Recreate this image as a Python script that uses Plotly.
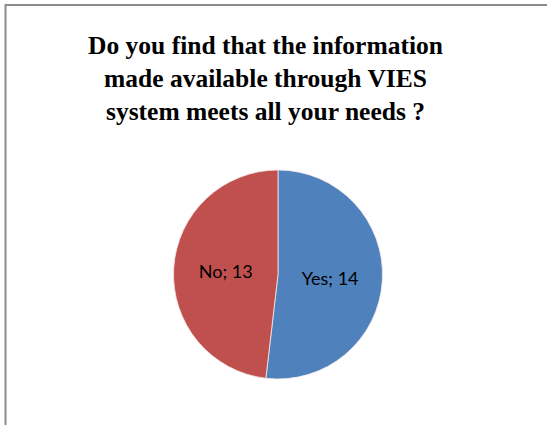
import plotly.graph_objects as go

labels = ["Yes", "No"]
values = [14, 13]
colors = ["#4F81BD", "#C0504D"]
title_text = "Do you find that the information<br>made available through VIES<br>system meets all your needs ?"

W, H = 547, 425
cx, cy, r = 278, 274.5, 104.5

fig = go.Figure(go.Pie(
    labels=labels,
    values=values,
    sort=False,
    direction="clockwise",
    rotation=0,
    marker=dict(colors=colors, line=dict(color="#f4eaea", width=0.8)),
    texttemplate="%{label}; %{value}",
    textposition="inside",
    insidetextorientation="horizontal",
    textfont=dict(family="Lato, Liberation Sans, sans-serif", size=18, color="#000000"),
    hoverinfo="label+value",
    showlegend=False,
    domain=dict(x=[(cx - r) / W, (cx + r) / W], y=[(H - cy - r) / H, (H - cy + r) / H]),
))

fig.update_layout(
    width=W, height=H,
    margin=dict(l=0, r=0, t=0, b=0),
    paper_bgcolor="white",
    plot_bgcolor="white",
    title=dict(
        text=title_text,
        font=dict(family="Liberation Serif, Times New Roman, serif", size=25.5, color="#000000", weight="bold"),
        x=265.5 / W, xanchor="center", xref="paper",
        y=1 - 54 / H, yanchor="top", yref="container",
    ),
    shapes=[dict(type="rect", xref="paper", yref="paper",
                 x0=5.5 / W, x1=1.2, y0=-0.2, y1=1 - 5 / H,
                 line=dict(color="#8c8c8c", width=2), fillcolor="rgba(0,0,0,0)")],
)

fig.write_html("out.html", config={"displayModeBar": False},
               post_script="document.body.style.margin='0';document.body.style.overflow='hidden';")
